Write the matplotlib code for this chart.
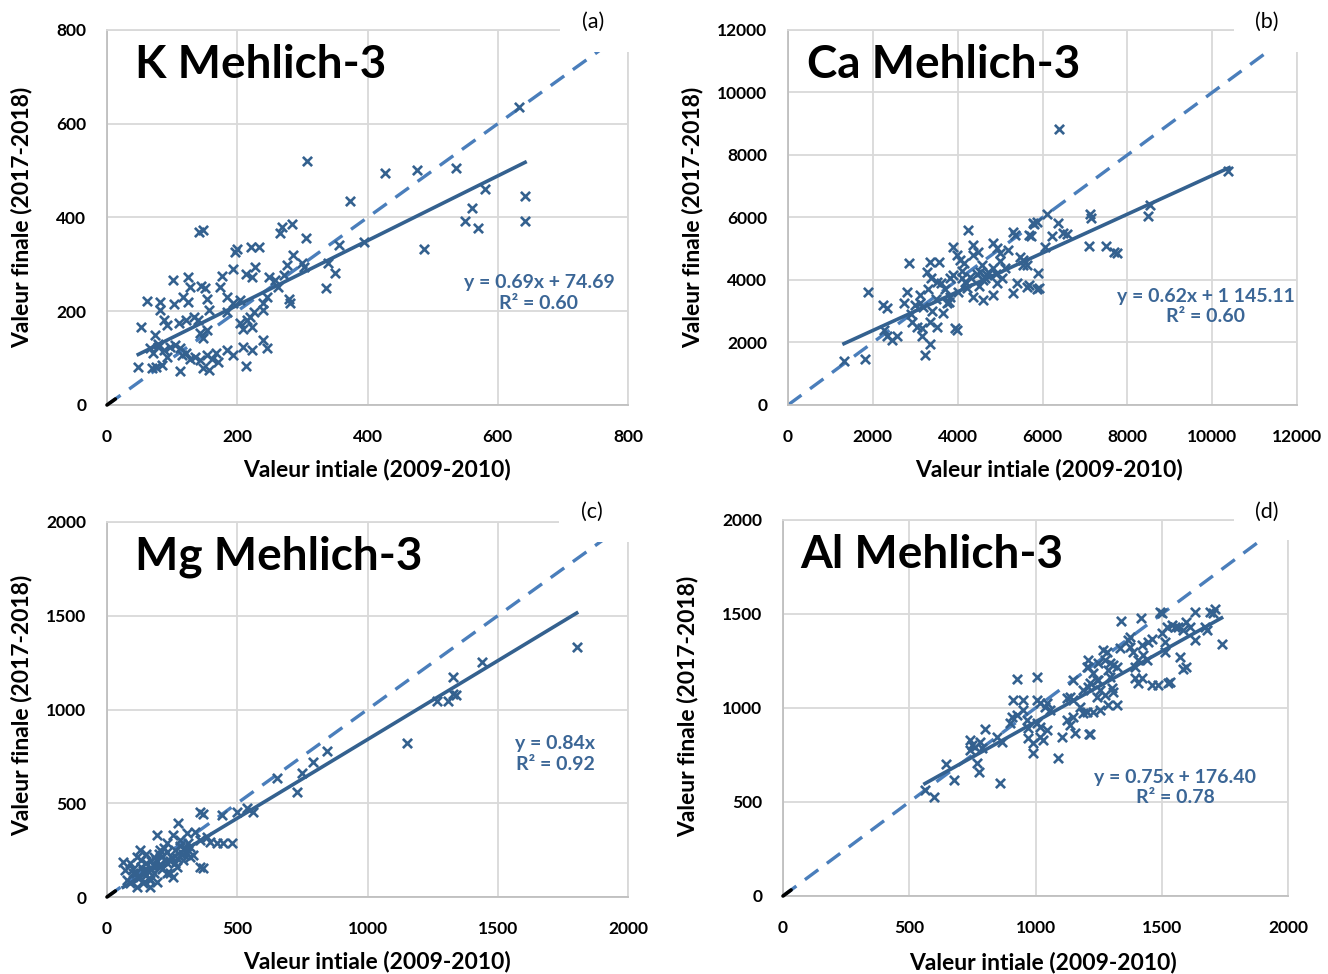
import matplotlib
matplotlib.use("Agg")
import matplotlib.pyplot as plt
from matplotlib.patches import Rectangle
import numpy as np

plt.rcParams['font.family'] = ['Lato', 'DejaVu Sans']

# ---------------- data ----------------
titles = ["K Mehlich-3", "Ca Mehlich-3", "Mg Mehlich-3", "Al Mehlich-3"]
panel_tags = ["(a)", "(b)", "(c)", "(d)"]
xlabel = "Valeur intiale (2009-2010)"
ylabel = "Valeur finale (2017-2018)"

k_x = [307, 373, 142, 147, 266, 268, 284, 306, 197, 199, 221, 233, 394, 357, 286, 193, 227, 214, 222, 248,
       276, 300, 303, 340, 350, 337, 258, 263, 272, 176, 101, 125, 127, 145, 150, 174, 153, 117, 125, 61,
       82, 82, 103, 184, 194, 204, 245, 240, 279, 281, 156, 184, 225, 220, 240, 52, 87, 92, 110, 122,
       133, 140, 204, 209, 222, 215, 74, 79, 143, 148, 153, 240, 245, 66, 71, 79, 87, 92, 97, 104,
       112, 115, 122, 127, 135, 143, 153, 161, 168, 171, 184, 194, 209, 222, 48, 69, 76, 84, 112, 148,
       156, 213, 633, 427, 476, 536, 580, 561, 549, 569, 642, 642, 486]
k_y = [520, 435, 370, 373, 367, 380, 387, 357, 327, 332, 338, 338, 347, 341, 321, 290, 295, 279, 274, 272,
       299, 302, 295, 302, 282, 250, 267, 252, 277, 276, 267, 274, 252, 254, 249, 252, 227, 231, 220, 222,
       220, 203, 215, 231, 217, 224, 231, 217, 227, 217, 203, 199, 199, 188, 203, 167, 181, 171, 174, 181,
       188, 181, 174, 163, 167, 181, 149, 131, 153, 142, 160, 139, 121, 121, 110, 124, 117, 103, 124, 128,
       121, 107, 110, 99, 103, 96, 107, 99, 110, 92, 117, 107, 124, 117, 82, 78, 82, 85, 72, 78,
       75, 83, 636, 494, 501, 505, 460, 421, 392, 378, 446, 392, 333]

ca_x = [4250, 2860, 1893, 1320, 1815, 3229, 3347, 2246, 2340, 2796, 2734, 2263, 2340, 2458, 2575, 3111, 3111, 3190,
        3270, 3350, 3567, 3360, 3520, 2915, 3033, 3151, 3151, 3347, 3504, 3662, 3740, 3819, 3897, 3976, 4054, 3936,
        3976, 3819, 3897, 4093, 4172, 4211, 4368, 4486, 4368, 4565, 4526, 4643, 4722, 4840, 4368, 4604, 4840, 4840,
        4918, 4997, 4918, 5036, 5115, 5193, 5311, 5350, 5311, 5390, 5468, 5547, 5689, 5783, 5861, 5672, 5908,
        6395, 10379, 8533, 8479, 7118, 7142, 6097, 5800, 6372, 6230, 6490, 6569, 5728, 6058, 7095, 7488, 7692, 7747,
        5900, 5547, 5625, 5625, 5861,
        4100, 4300, 4450, 4600, 4700, 4200, 3700, 3800, 4000, 3500, 3300, 4500, 4900, 5000, 4150, 3600, 3000, 2900,
        3400]
ca_y = [5600, 4533, 3605, 1419, 1472, 1600, 1941, 3200, 3093, 3605, 3253, 2411, 2197, 2091, 2197, 3520, 3253, 3147,
        4269, 4587, 4587, 4053, 3947, 2667, 2507, 2197, 2453, 2667, 2507, 2933, 3253, 3467, 5067, 4800, 4640, 2453,
        2400, 4053, 4160, 4053, 3947, 3733, 5120, 4907, 4800, 4480, 4267, 4053, 4267, 4373, 3467, 3360, 3520, 5173,
        5013, 4853, 3893, 4053, 4373, 4960, 5547, 5440, 3573, 3893, 4747, 4480, 5440, 5813, 5867, 3840, 3733,
        8821, 7488, 6400, 6048, 6112, 5973, 6101, 5781, 5813, 5408, 5515, 5472, 5397, 5066, 5099, 5099, 4907, 4875,
        4213, 4640, 4480, 3787, 3712,
        4300, 4100, 4200, 4000, 4150, 3900, 3700, 3300, 3600, 3400, 3700, 3800, 4200, 4600, 4550, 3900, 3200, 2900,
        3000]

mg_x = [357, 370, 274, 191, 440, 498, 536, 562, 651, 728, 338, 357, 383, 396, 421, 447, 479, 280, 306, 319,
        332, 357, 370, 255, 230, 204, 179, 127, 114, 88, 62, 69, 75, 101, 127, 153, 165, 179, 204, 230,
        242, 255, 268, 293, 306, 319, 88, 114, 140, 165, 191,
        1803, 1438, 1327, 1266, 1310, 1329, 1340, 1150, 843, 792, 747,
        110, 130, 150, 170, 190, 210, 230, 250, 150, 170, 200, 220, 240, 260, 280, 120, 140, 160, 180, 200,
        100, 130, 150, 210, 230, 260, 300, 290, 310, 270]
mg_y = [455, 445, 393, 331, 437, 455, 473, 455, 633, 562, 348, 304, 322, 295, 286, 286, 286, 304, 340, 268,
        224, 162, 153, 331, 286, 251, 215, 251, 215, 180, 188, 144, 92, 128, 109, 144, 92, 128, 162, 180,
        128, 109, 162, 197, 233, 215, 73, 55, 73, 55, 82,
        1335, 1255, 1175, 1047, 1047, 1083, 1077, 820, 780, 722, 660,
        130, 160, 180, 150, 200, 220, 240, 210, 120, 190, 170, 260, 190, 250, 270, 100, 140, 100, 170, 230,
        150, 200, 230, 150, 130, 180, 260, 230, 290, 210]

al_x = [562, 598, 677, 644, 859, 777, 767, 741, 748, 761, 741, 800, 780, 787, 846, 866, 899, 906, 925, 925,
        1005, 912, 952, 952, 965, 972, 972, 992, 992, 1005, 1018, 1005, 1018, 1038, 1045, 1058, 1018, 1045, 1031,
        1090, 1103, 1123, 1136, 1149, 1136, 1147, 1123, 1147, 1189, 1209, 1209, 1156, 1213, 1176, 1189, 1229,
        1242, 1255,
        1339, 1417, 1493, 1500, 1632, 1691, 1711, 1704, 1737, 1671, 1678, 1632, 1598, 1612, 1585, 1553, 1566,
        1539, 1572, 1596, 1586, 1513, 1513, 1500, 1520, 1460, 1487, 1526, 1533, 1407, 1420, 1394, 1440, 1447,
        1460, 1420, 1427, 1407, 1394, 1374, 1387, 1367, 1374, 1335, 1268, 1282, 1216, 1203, 1229, 1255, 1289,
        1322, 1242, 1275, 1302, 1308, 1216, 1249, 1295, 1203, 1249, 1308, 1289, 1322, 1209, 1275, 1295]
al_y = [564, 528, 617, 700, 599, 661, 706, 829, 803, 794, 776, 887, 821, 785, 847, 821, 918, 954, 963, 1152,
        1163, 1043, 1043, 989, 936, 891, 838, 812, 758, 918, 900, 1043, 1025, 1007, 1025, 989, 847, 883, 829,
        732, 847, 936, 909, 954, 1060, 1043, 1052, 1149, 1096, 1114, 1220, 865, 861, 1007, 971, 1185,
        1149, 1096,
        1465, 1477, 1509, 1504, 1513, 1513, 1525, 1504, 1340, 1433, 1415, 1362, 1459, 1433, 1415, 1433, 1433,
        1442, 1273, 1216, 1205, 1351, 1298, 1397, 1433, 1122, 1122, 1131, 1140, 1131, 1158, 1158, 1255, 1351,
        1369, 1335, 1281, 1255, 1220, 1326, 1298, 1362, 1379, 1317, 1308, 1298, 860, 979, 979, 988, 1015,
        1015, 1059, 1068, 1104, 1086, 1131, 1149, 1167, 1220, 1238, 1229, 1202, 1220, 1255, 1255, 1238]

# trendline coefficients (slope, intercept) and fitted range
slopes = [0.69, 0.62, 0.84, 0.75]
intercepts = [74.69, 1145.11, 0.0, 176.40]
fit_ranges = [(48, 642), (1320, 10400), (62, 1803), (562, 1737)]
eq_texts = ["y = 0.69x + 74.69\nR² = 0.60", "y = 0.62x + 1 145.11\nR² = 0.60",
            "y = 0.84x\nR² = 0.92", "y = 0.75x + 176.40\nR² = 0.78"]
axis_max = [800, 12000, 2000, 2000]
tick_step = [200, 2000, 500, 500]

xs = [k_x, ca_x, mg_x, al_x]
ys = [k_y, ca_y, mg_y, al_y]

# ---------------- layout ----------------
W, H = 1328, 974
fig = plt.figure(figsize=(W / 100, H / 100), dpi=100)

boxes = [(107, 628, 30, 405), (788, 1297, 30, 405), (107, 628, 522, 897), (783, 1288, 520, 896)]
title_pos = [(135, 65), (807, 65), (135, 557), (800, 555)]
tag_pos = [(593, 22), (1267, 22), (592, 512), (1267, 512)]
tag_box = [(560, 0, 80, 52), (1234, 0, 80, 52), (559, 490, 80, 52), (1234, 490, 80, 50)]
eq_pos = [(0.829, 0.298), (0.821, 0.263), (0.860, 0.382), (0.776, 0.288)]
xlab_pos = [(0.518, -0.173), (0.513, -0.173), (0.518, -0.173), (0.515, -0.176)]
ylab_pos = [(-0.163, 0.5), (-0.187, 0.5), (-0.163, 0.51), (-0.188, 0.505)]
show_black = [True, False, True, True]

mark_col = "#34618F"
trend_col = "#34618F"
dash_col = "#4A7EBB"
eq_col = "#3B6696"
grid_col = "#D9D9D9"

for i in range(4):
    l, r, t, b = boxes[i]
    ax = fig.add_axes([l / W, 1 - b / H, (r - l) / W, (b - t) / H])
    m = axis_max[i]
    ax.set_xlim(0, m)
    ax.set_ylim(0, m)
    ticks = np.arange(0, m + 1, tick_step[i])
    ax.set_xticks(ticks)
    ax.set_yticks(ticks)
    ax.tick_params(length=0, labelsize=12.5)
    ax.tick_params(axis="x", pad=17)
    ax.tick_params(axis="y", pad=15)
    for lab in ax.get_xticklabels() + ax.get_yticklabels():
        lab.set_fontweight("bold")
    ax.grid(True, color=grid_col, lw=1.3)
    ax.set_axisbelow(True)
    for s in ["top", "right"]:
        ax.spines[s].set_color(grid_col)
        ax.spines[s].set_linewidth(1.3)
    for s in ["left", "bottom"]:
        ax.spines[s].set_color("#BFBFBF")
        ax.spines[s].set_linewidth(1.3)

    # 1:1 line
    ax.plot([0, m], [0, m], ls=(0, (5, 3.2)), color=dash_col, lw=2.4, zorder=2)
    if show_black[i]:
        ax.plot([0, 0.016 * m], [0, 0.016 * m], color="black", lw=2.6,
                solid_capstyle="round", clip_on=False, zorder=4)

    # scatter
    ax.scatter(xs[i], ys[i], marker="x", s=44, linewidths=1.9, color=mark_col, zorder=3)

    # trendline
    x0, x1 = fit_ranges[i]
    fx = np.array([x0, x1])
    ax.plot(fx, slopes[i] * fx + intercepts[i], color=trend_col, lw=2.6, zorder=3)

    ax.text(eq_pos[i][0], eq_pos[i][1], eq_texts[i], transform=ax.transAxes, ha="center", va="center",
            color=eq_col, fontsize=14, fontweight="bold", linespacing=1.25)

    ax.set_xlabel(xlabel, fontsize=16.5, fontweight="bold")
    ax.set_ylabel(ylabel, fontsize=16.5, fontweight="bold")
    ax.xaxis.set_label_coords(*xlab_pos[i])
    ax.yaxis.set_label_coords(*ylab_pos[i])
    ax.xaxis.label.set_verticalalignment("center")
    ax.yaxis.label.set_verticalalignment("center")

    tx, ty = title_pos[i]
    fig.text(tx / W, 1 - ty / H, titles[i], fontsize=33, fontweight="bold", ha="left", va="center", zorder=6)

    bx, by, bw, bh = tag_box[i]
    fig.patches.append(Rectangle((bx / W, 1 - (by + bh) / H), bw / W, bh / H, transform=fig.transFigure,
                                 facecolor="white", edgecolor="none", zorder=5))
    gx, gy = tag_pos[i]
    fig.text(gx / W, 1 - gy / H, panel_tags[i], fontsize=15.5, ha="center", va="center", zorder=6)

fig.savefig("out.png", dpi=100)
